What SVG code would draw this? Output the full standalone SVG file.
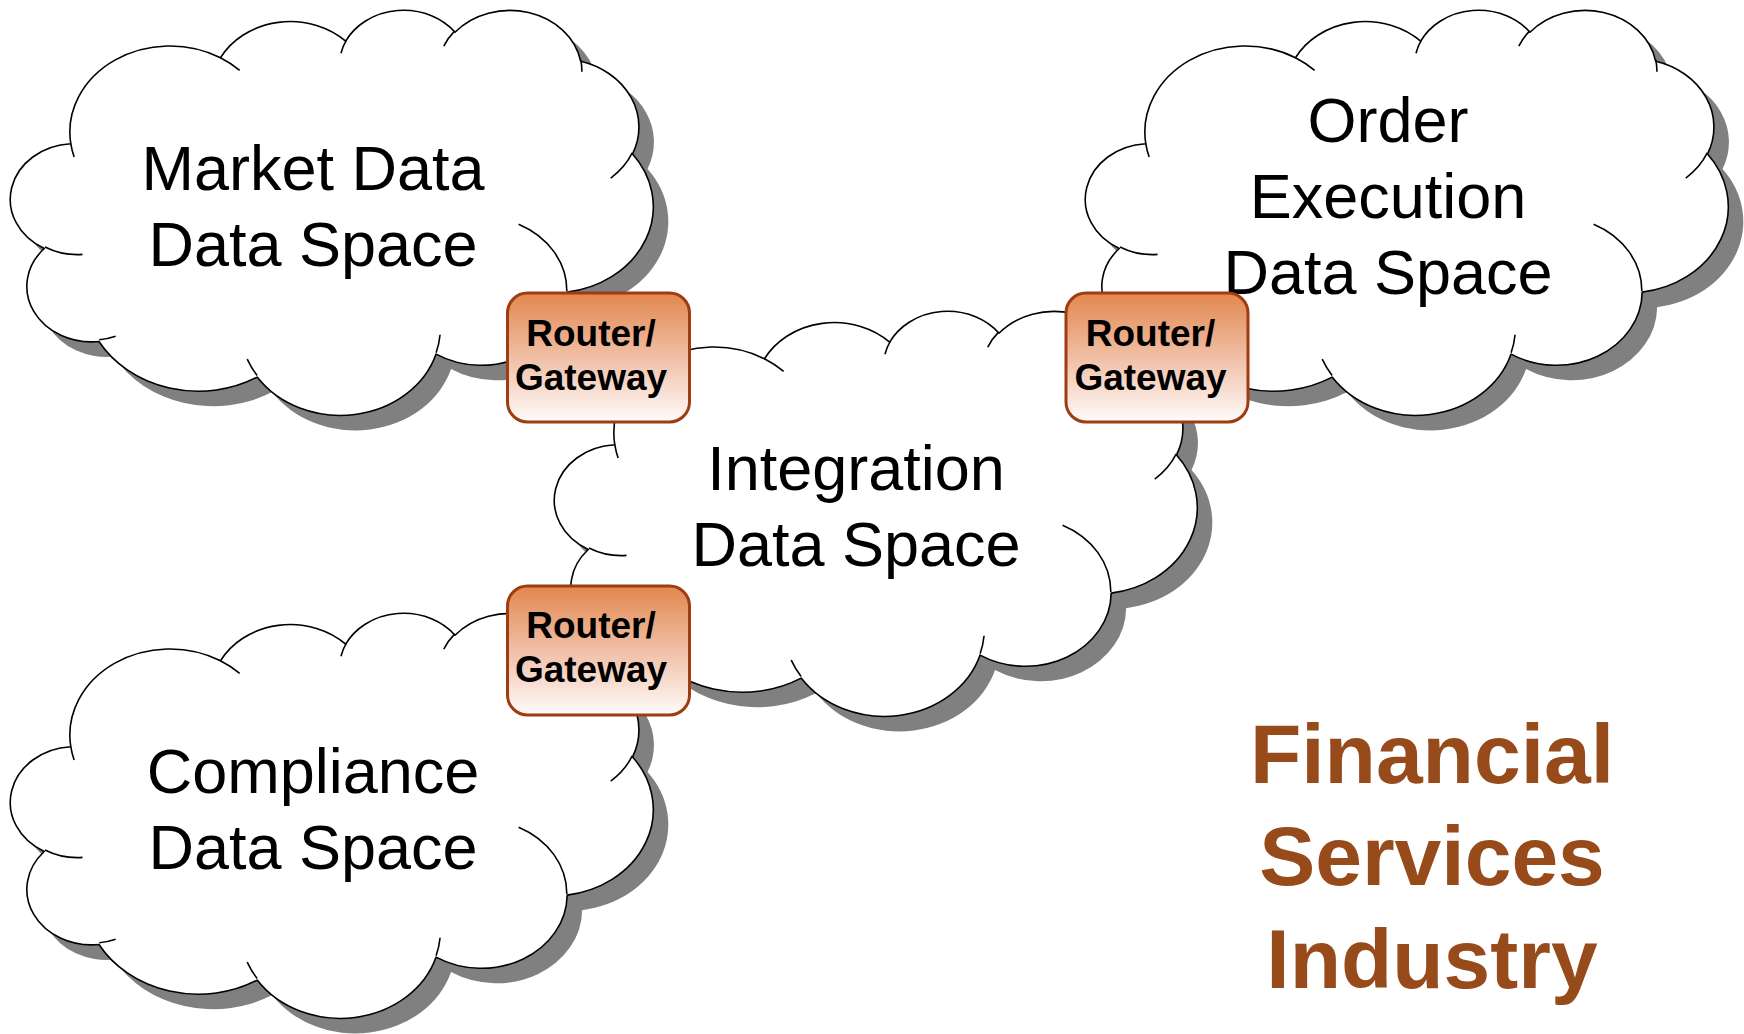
<svg xmlns="http://www.w3.org/2000/svg" xmlns:xlink="http://www.w3.org/1999/xlink" width="1744" height="1034" viewBox="0 0 1744 1034">
<style>
.shadow{fill:#808080;stroke:none}
.body{fill:#ffffff;stroke:#000000;stroke-width:1.6;stroke-linejoin:round}
.crease{fill:none;stroke:#000000;stroke-width:1.6;stroke-linecap:butt}
.ctext{font-family:"Liberation Sans",Arial,sans-serif;font-size:63px;fill:#000000;text-anchor:middle}
.router{fill:url(#rg);stroke:#9E3D12;stroke-width:3}
.rtext{font-family:"Liberation Sans",Arial,sans-serif;font-size:37px;font-weight:bold;fill:#000000;text-anchor:middle}
.title{font-family:"Liberation Sans",Arial,sans-serif;font-size:84px;font-weight:bold;fill:#974B1B;text-anchor:middle}
</style>
<defs>
<linearGradient id="rg" x1="0" y1="0" x2="0" y2="1">
<stop offset="0" stop-color="#E2874D"/>
<stop offset="0.5" stop-color="#F0BFA6"/>
<stop offset="1" stop-color="#FFFBFA"/>
</linearGradient>
<path id="cloud" d="M57.78,134.72 A100.04,86.16 0 0 1 207.49,48.77 A79.01,68.13 0 0 1 332.70,32.17 A64.67,55.73 0 0 1 441.99,23.25 A71.96,61.83 0 0 1 567.69,52.28 A79.01,68.18 0 0 1 619.55,144.93 A100.37,86.44 0 0 1 554.14,283.14 A85.70,73.75 0 0 1 423.06,345.11 A100.03,86.39 0 0 1 244.17,368.11 A114.37,98.84 0 0 1 85.97,332.52 A64.59,55.48 0 0 1 31.28,239.50 A64.37,55.73 0 0 1 57.78,134.72 Z"/>
<path id="creases" d="M69.53,245.41 A64.37,55.73 0 0 1 32.00,237.94 M102.64,327.18 A64.59,55.48 0 0 1 86.21,330.75 M244.12,366.47 A100.03,86.39 0 0 1 234.21,350.14 M427.07,325.79 A100.03,86.39 0 0 1 423.12,343.68 M505.61,215.19 A85.70,73.75 0 0 1 553.79,282.09 M619.23,143.94 A79.01,68.18 0 0 1 597.76,169.04 M567.76,50.87 A71.96,61.83 0 0 1 568.89,62.71 M430.79,37.05 A71.96,61.83 0 0 1 441.78,21.93 M328.01,44.25 A64.67,55.73 0 0 1 333.34,31.22 M207.41,48.68 A100.04,86.16 0 0 1 226.67,61.32 M61.14,148.02 A100.04,86.16 0 0 1 57.79,134.73"/>
</defs>
<rect width="1744" height="1034" fill="#ffffff"/>

<g id="market-data-space" transform="translate(13,9)">
<use xlink:href="#cloud" class="shadow" x="15" y="15"/>
<use xlink:href="#cloud" class="body"/>
<use xlink:href="#creases" class="crease"/>
<text class="ctext" x="300" y="181">Market Data</text>
<text class="ctext" x="300" y="257">Data Space</text>
</g>

<g id="compliance-data-space" transform="translate(13,612)">
<use xlink:href="#cloud" class="shadow" x="15" y="15"/>
<use xlink:href="#cloud" class="body"/>
<use xlink:href="#creases" class="crease"/>
<text class="ctext" x="300" y="181">Compliance</text>
<text class="ctext" x="300" y="257">Data Space</text>
</g>

<g id="order-execution-data-space" transform="translate(1088,9)">
<use xlink:href="#cloud" class="shadow" x="15" y="15"/>
<use xlink:href="#cloud" class="body"/>
<use xlink:href="#creases" class="crease"/>
<text class="ctext" x="300" y="133">Order</text>
<text class="ctext" x="300" y="209">Execution</text>
<text class="ctext" x="300" y="285">Data Space</text>
</g>

<g id="integration-data-space" transform="translate(557,310)">
<use xlink:href="#cloud" class="shadow" x="15" y="15"/>
<use xlink:href="#cloud" class="body"/>
<use xlink:href="#creases" class="crease"/>
<text class="ctext" x="299" y="180">Integration</text>
<text class="ctext" x="299" y="256">Data Space</text>
</g>

<g id="connectors"></g>

<g id="router-market">
<rect class="router" x="507.5" y="293" width="182" height="129" rx="20"/>
<text class="rtext" x="591" y="346">Router/</text>
<text class="rtext" x="591" y="390">Gateway</text>
</g>

<g id="router-order">
<rect class="router" x="1066" y="293" width="182" height="129" rx="20"/>
<text class="rtext" x="1150.5" y="346">Router/</text>
<text class="rtext" x="1150.5" y="390">Gateway</text>
</g>

<g id="router-compliance">
<rect class="router" x="507.5" y="586" width="182" height="129" rx="20"/>
<text class="rtext" x="591" y="638">Router/</text>
<text class="rtext" x="591" y="682">Gateway</text>
</g>

<g id="title">
<text class="title" x="1432" y="783">Financial</text>
<text class="title" x="1432" y="885">Services</text>
<text class="title" x="1432" y="988">Industry</text>
</g>
</svg>
